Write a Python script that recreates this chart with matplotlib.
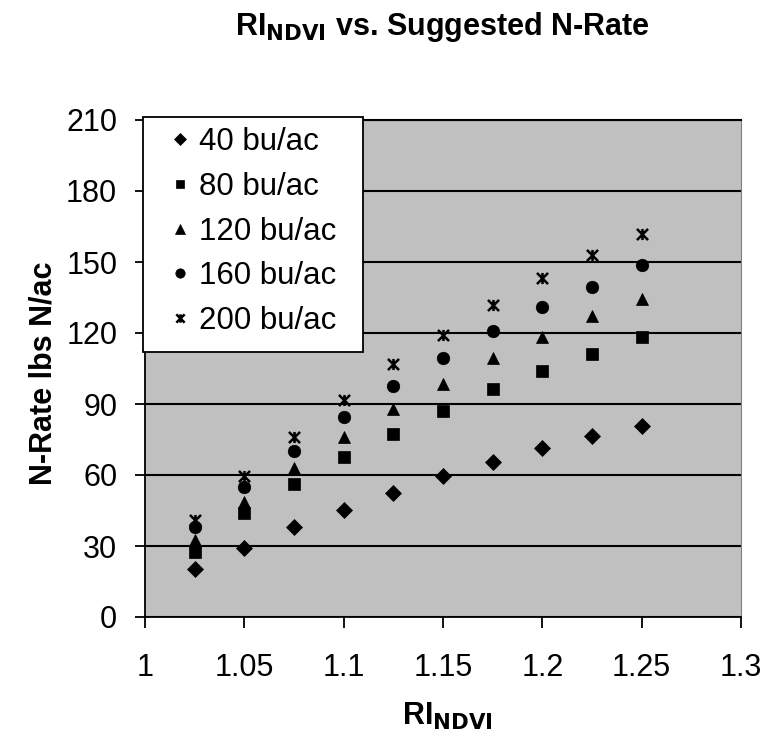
import matplotlib
matplotlib.use("Agg")
import matplotlib.pyplot as plt
from matplotlib.path import Path
from matplotlib.patches import Rectangle

plt.rcParams['font.family'] = ['Liberation Sans', 'DejaVu Sans']

ri_ndvi = [1.025, 1.05, 1.075, 1.1, 1.125, 1.15, 1.175, 1.2, 1.225, 1.25]
rate_40 = [20.4, 29.3, 38.2, 45.2, 52.3, 59.6, 65.6, 71.3, 76.5, 80.8]
rate_80 = [27.6, 43.8, 56.0, 67.5, 77.2, 87.0, 96.2, 104.1, 111.1, 118.2]
rate_120 = [32.5, 48.5, 62.8, 76.2, 87.8, 98.3, 109.3, 118.2, 127.3, 134.2]
rate_160 = [38.2, 55.0, 70.1, 84.4, 97.7, 109.3, 120.8, 130.9, 139.6, 148.7]
rate_200 = [41.0, 59.6, 76.2, 91.7, 106.8, 119.2, 131.8, 143.1, 153.0, 161.8]

# excel style star: an x with a vertical bar through it
star = Path([(-1, -1), (1, 1), (-1, 1), (1, -1), (0, -1), (0, 1)],
            [Path.MOVETO, Path.LINETO, Path.MOVETO, Path.LINETO, Path.MOVETO, Path.LINETO])

series = [
    ('40 bu/ac', rate_40, 'D', 8),
    ('80 bu/ac', rate_80, 's', 8),
    ('120 bu/ac', rate_120, '^', 9),
    ('160 bu/ac', rate_160, 'o', 9),
    ('200 bu/ac', rate_200, star, 8),
]

fig = plt.figure(figsize=(7.63, 7.38), dpi=100)
ax = fig.add_axes([145 / 763, 1 - 617 / 738, 596 / 763, 497 / 738])
ax.set_facecolor('#C0C0C0')

for label, vals, m, s in series:
    ax.plot(ri_ndvi, vals, linestyle='none', marker=m, markersize=s,
            color='black', markeredgewidth=1.8 if m is star else 0.5,
            label=label, zorder=3)

ax.set_xlim(1, 1.3)
ax.set_ylim(0, 210)
ax.set_xticks([1, 1.05, 1.1, 1.15, 1.2, 1.25, 1.3])
ax.set_xticklabels(['1', '1.05', '1.1', '1.15', '1.2', '1.25', '1.3'])
ax.set_yticks(range(0, 211, 30))
ax.yaxis.grid(True, color='black', linewidth=1.5)
ax.set_axisbelow(True)
ax.tick_params(labelsize=22, direction='out', length=7, width=1.3)
ax.tick_params(axis='y', pad=13)
ax.tick_params(axis='x', length=8, pad=18)
ax.spines['right'].set_color('#808080')
ax.spines['top'].set_linewidth(1.5)
for side in ['left', 'bottom']:
    ax.spines[side].set_linewidth(1.3)

fig.text((145 + 741) / 2 / 763 + 0.006, 1 - 725 / 738, r'RI$_{\mathbf{NDVI}}$',
         fontsize=22, fontweight='bold', ha='center', va='baseline')
fig.text(44 / 763, 1 - 373 / 738, 'N-Rate lbs N/ac', fontsize=22,
         fontweight='bold', rotation=90, ha='center', va='center')
fig.text(442 / 763, 1 - 35 / 738, r'RI$_{\mathbf{NDVI}}$ vs. Suggested N-Rate',
         fontsize=22, fontweight='bold', ha='center', va='baseline')

# legend box drawn separately, excel pads it wider on the sides
box = Rectangle((-2 / 596, (617 - 352) / 497), 220 / 596, 235 / 497,
                transform=ax.transAxes, facecolor='white', edgecolor='black',
                linewidth=1.3, clip_on=False, zorder=4)
ax.add_patch(box)
leg = ax.legend(loc='upper left', bbox_to_anchor=(-2 / 596, 1 + 3 / 497),
                fontsize=22.5, frameon=False, handlelength=1.72,
                handletextpad=-0.27, borderpad=0.33, labelspacing=0.47,
                markerscale=0.75, borderaxespad=0)
leg.set_zorder(5)

fig.savefig('out.png', dpi=100)
